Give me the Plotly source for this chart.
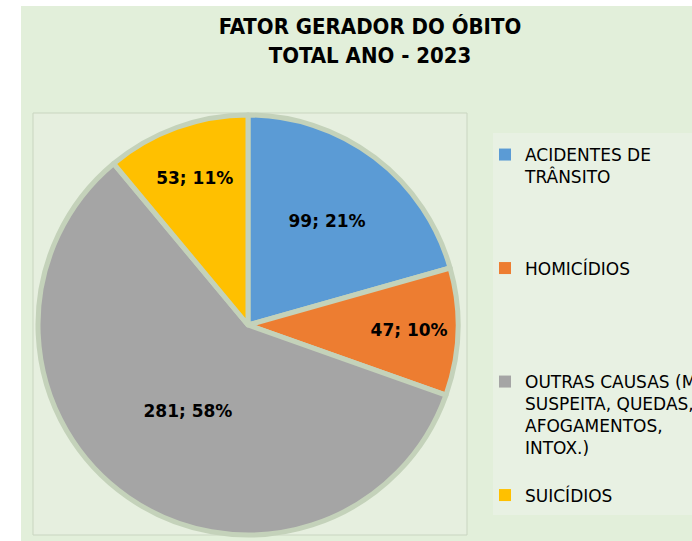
import plotly.graph_objects as go

# ---- data ----
categories = [
    "ACIDENTES DE<br>TRÂNSITO",
    "HOMICÍDIOS",
    "OUTRAS CAUSAS (MORTE<br>SUSPEITA, QUEDAS,<br>AFOGAMENTOS,<br>INTOX.)",
    "SUICÍDIOS",
]
values = [99, 47, 281, 53]
percent_labels = ["21%", "10%", "58%", "11%"]
colors = ["#5B9BD5", "#ED7D31", "#A5A5A5", "#FFC000"]
legend_padding_lines = [3, 4, 1, 0]

title_text = "FATOR GERADOR DO ÓBITO<br>TOTAL ANO - 2023"

W, H = 692, 541

legend_names = [c + "<br>&nbsp;" * n for c, n in zip(categories, legend_padding_lines)]
slice_text = [f"{v}; {p}" for v, p in zip(values, percent_labels)]

# pie geometry (pixels -> paper)
cx, cy, r = 248, 325, 210
pie_domain = dict(
    x=[(cx - r) / W, (cx + r) / W],
    y=[(H - cy - r) / H, (H - cy + r) / H],
)

common = dict(
    labels=legend_names,
    values=values,
    sort=False,
    direction="clockwise",
    rotation=0,
    hoverinfo="none",
    domain=pie_domain,
)

fig = go.Figure()
# base pie: provides clean legend squares
fig.add_trace(go.Pie(
    **common,
    textinfo="none",
    marker=dict(colors=colors, line=dict(width=0)),
    showlegend=True,
))
# top pie: slice gaps and data labels
fig.add_trace(go.Pie(
    **common,
    text=slice_text,
    textinfo="text",
    textposition="inside",
    insidetextorientation="horizontal",
    textfont=dict(family="DejaVu Sans", size=17, color="black", weight="bold"),
    marker=dict(colors=colors, line=dict(color="#C4D2BA", width=5)),
    showlegend=False,
))

shapes = [
    # chart area background
    dict(type="rect", xref="paper", yref="paper", x0=21 / W, x1=1.0, y0=0, y1=(H - 6) / H,
         fillcolor="#E2EFDA", line=dict(width=0), layer="below"),
    # plot area
    dict(type="rect", xref="paper", yref="paper", x0=33 / W, x1=467 / W, y0=(H - 535) / H, y1=(H - 113) / H,
         fillcolor="#E6EFDF", line=dict(color="#C9D5C0", width=1), layer="below"),
    # legend area
    dict(type="rect", xref="paper", yref="paper", x0=493 / W, x1=1.0, y0=(H - 515) / H, y1=(H - 133) / H,
         fillcolor="#E8F1E3", line=dict(width=0), layer="below"),
]

fig.update_layout(
    width=W,
    height=H,
    margin=dict(l=0, r=0, t=0, b=0, autoexpand=False),
    paper_bgcolor="white",
    plot_bgcolor="white",
    shapes=shapes,
    title=dict(
        text=title_text,
        x=370 / W,
        xanchor="center",
        y=1 - 34 / H,
        yanchor="middle",
        font=dict(family="DejaVu Sans Condensed, Liberation Sans Narrow, Arial Narrow, sans-serif",
                  size=22, color="black", weight="bold"),
    ),
    showlegend=True,
    legend=dict(
        x=485 / W,
        xanchor="left",
        y=1 - 137 / H,
        yanchor="top",
        valign="top",
        bgcolor="rgba(0,0,0,0)",
        borderwidth=0,
        font=dict(family="DejaVu Sans", size=17, color="black"),
        traceorder="normal",
    ),
)

fig.write_html(
    "out.html",
    config={"displayModeBar": False},
    post_script="document.body.style.margin='0';",
)
